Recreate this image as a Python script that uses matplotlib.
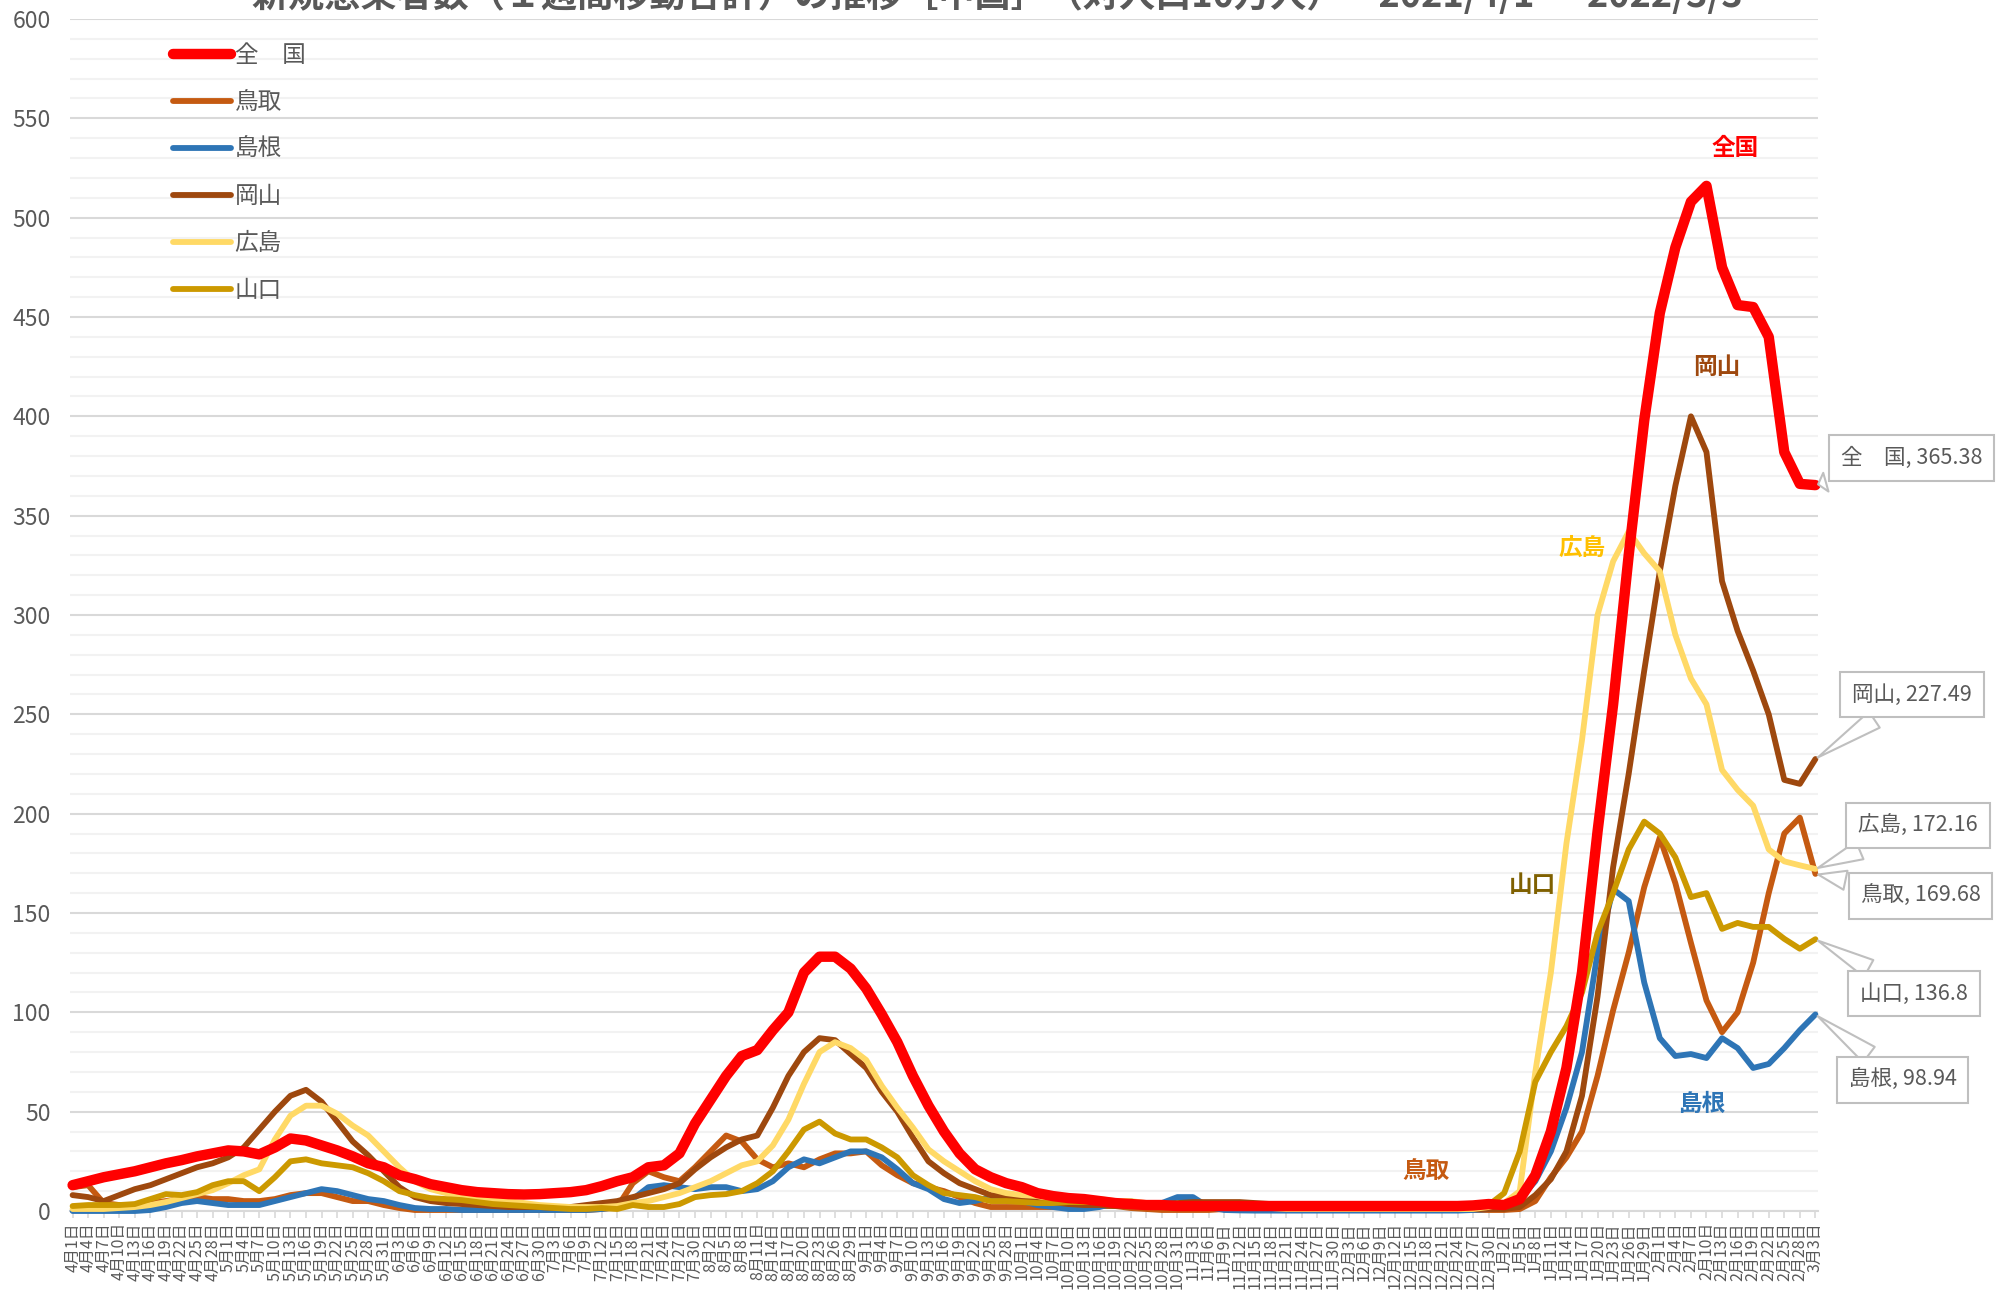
import numpy as np
import pandas as pd
import matplotlib
matplotlib.use("Agg")
import matplotlib.pyplot as plt
from matplotlib.ticker import MultipleLocator

plt.rcParams['font.family'] = ['Noto Sans CJK JP', 'DejaVu Sans']

# every third day, 2021/4/1 .. 2022/3/3
dates = pd.date_range('2021-04-01', '2022-03-03', freq='3D')
date_labels = [f"{d.month}月{d.day}日" for d in dates]

zenkoku = [13, 15, 17, 18.5, 20, 22, 24, 25.6, 27.5, 29, 30.5,
           30, 28.5, 32, 36.5, 35.5, 33, 30.5, 27.5, 24, 22,
           18, 16, 13.5, 12, 10.5, 9.5, 9, 8.5, 8.3, 8.5,
           9, 9.5, 10.5, 12.5, 15, 17, 22, 23, 29, 44,
           56, 68, 78, 81, 91, 100, 120, 128, 128, 122,
           112, 99, 85, 68, 53, 40, 29, 21, 17, 14,
           12, 9, 7.5, 6.5, 6, 5, 4, 3.5, 3, 3,
           2.5, 2.5, 2.5, 2.5, 2.5, 2.5, 2.5, 2.5, 2.5, 2.5,
           2.5, 2.5, 2.5, 2.5, 2.5, 2.5, 2.5, 2.5, 2.5, 2.8, 3.5,
           3, 6, 18, 40, 72, 120, 191, 255, 330, 398, 452,
           485, 508, 516, 475, 456, 455, 440, 382, 366, 365.38]
tottori = [12, 13, 4, 3, 3, 4, 5, 6, 7, 6, 6,
           5, 5, 6, 8, 9, 9, 7, 5, 5, 3,
           1.5, 0.5, 0.5, 0.5, 0.5, 0.5, 0.5, 0.5, 0.5, 0.5,
           0.5, 0.5, 0.5, 1, 2, 14, 20, 17, 15, 22,
           30, 38, 35, 26, 22, 24, 22, 26, 29, 29,
           30, 23, 18, 14, 12, 10, 7, 4, 2, 2,
           2, 2, 2, 2.5, 2.5, 2.5, 2.5, 1.5, 1, 0.5,
           0.5, 0.5, 0.5, 1, 1.5, 2, 1.5, 1, 0.5, 0.5,
           0.5, 0.5, 0.5, 0.5, 0.5, 0.5, 0.5, 0.5, 0.5, 0.5, 0.5,
           0.5, 1, 5, 17, 27, 40, 68, 101, 130, 163, 188,
           165, 135, 106, 90, 100, 125, 160, 190, 198, 169.68]
shimane = [0, 0, 0, 0, 0, 0.5, 2, 4, 5, 4, 3,
           3, 3, 5, 7, 9, 11, 10, 8, 6, 5,
           3, 1.5, 1, 1, 0.5, 0.5, 0.5, 0.5, 0.5, 0.5,
           0.5, 0.5, 0.5, 1, 2, 6, 12, 13, 12, 11,
           12, 12, 10, 11, 15, 22, 26, 24, 27, 30,
           30, 27, 21, 14, 11, 6, 4, 5, 7, 6,
           5, 3, 2, 1, 1, 2, 4, 5, 2, 4,
           7, 7, 2, 0.5, 0.3, 0.2, 0.2, 0.2, 0.2, 0.2,
           0.2, 0.2, 0.2, 0.2, 0.2, 0.2, 0.2, 0.2, 0.2, 0.5, 1,
           2, 6, 15, 30, 52, 80, 130, 162, 156, 115, 87,
           78, 79, 77, 87, 82, 72, 74, 82, 91, 98.94]
okayama = [8, 7, 5, 8, 11, 13, 16, 19, 22, 24, 27,
           32, 41, 50, 58, 61, 55, 45, 35, 28, 20,
           12, 7, 5, 4, 3.5, 3, 2.5, 2, 2, 2,
           1.5, 2, 3, 4, 5, 7, 9, 11, 14, 21,
           27, 32, 36, 38, 52, 68, 80, 87, 86, 79,
           72, 60, 50, 37, 25, 19, 14, 11, 8, 7.5,
           6.5, 5, 4.5, 3.5, 3, 3, 2.5, 2.5, 3, 3.5,
           4, 4.5, 4.5, 4.5, 4.5, 4, 3.5, 3, 2.5, 2,
           1.5, 1, 1, 1, 1, 1, 1, 1, 1, 1, 1,
           1, 2, 8, 16, 30, 58, 108, 173, 220, 272, 322,
           365, 400, 382, 317, 292, 272, 250, 217, 215, 227.49]
hiroshima = [1, 1, 1, 1.5, 2, 3, 4.5, 6.5, 8.5, 10.5, 14,
             18, 21, 36, 48, 53, 53, 49, 43, 38, 30,
             22, 15, 11, 9, 7.5, 6.5, 5.5, 5, 4, 3,
             2.5, 2, 2, 2, 2.5, 4, 5, 7, 9, 12,
             15, 19, 23, 25, 33, 46, 64, 80, 85, 82,
             76, 63, 52, 42, 31, 25, 20, 15, 11, 9,
             8, 7.5, 6, 5, 5, 6, 5, 5, 4, 3,
             2.5, 2, 2, 2, 2, 1.5, 1.5, 1, 1, 1,
             1, 1, 1, 1, 1, 1, 1, 1, 1, 1, 2,
             4, 10, 70, 120, 185, 237, 300, 327, 342, 331, 322,
             290, 268, 255, 222, 212, 204, 182, 176, 174, 172.16]
yamaguchi = [2.5, 3, 3, 3, 3.5, 6, 8.5, 8, 9.5, 13, 15,
             15, 10, 17, 25, 26, 24, 23, 22, 19, 15,
             10, 8, 6.5, 6, 5.5, 4.5, 3.5, 3, 2.5, 2,
             1.5, 1, 1, 1.5, 1, 3, 2, 2, 3.5, 7,
             8, 8.5, 10, 14, 20, 30, 41, 45, 39, 36,
             36, 32, 27, 18, 13, 9, 8, 7, 5, 5,
             4.5, 4, 4, 4.5, 4.5, 4.5, 4, 4, 3.5, 3,
             3, 3, 3, 3, 3, 2.5, 2, 1.5, 1.5, 1.5,
             1.5, 1.5, 1.5, 1.5, 1.5, 1.5, 1.5, 2, 2, 2, 3,
             9, 30, 65, 80, 93, 110, 140, 160, 182, 196, 190,
             178, 158, 160, 142, 145, 143, 143, 137, 132, 136.8]

names = ['全　国', '鳥取', '島根', '岡山', '広島', '山口']
series = [zenkoku, tottori, shimane, okayama, hiroshima, yamaguchi]
colors = ['#FF0000', '#C55A11', '#2E75B6', '#9E480E', '#FFD966', '#CC9900']
widths = [7.5, 4.2, 4.2, 4.2, 4.2, 4.2]
label_colors = ['#FF0000', '#C55A11', '#2E75B6', '#9E480E', '#FFC000', '#7F6000']

fig = plt.figure(figsize=(20.07, 12.97), dpi=100)
ax = fig.add_axes([70 / 2007, 86 / 1297, 1748 / 2007, 1192 / 1297])

days = np.arange(len(dates)) * 3
handles = []
for i in [1, 2, 3, 4, 5, 0]:
    h, = ax.plot(days, series[i], color=colors[i], lw=widths[i],
                 solid_capstyle='round', solid_joinstyle='round',
                 clip_on=False, zorder=3 + (i == 0), label=names[i])
    handles.append(h)
handles = [handles[-1]] + handles[:-1]

ax.set_xlim(-0.5, 336.5)
ax.set_ylim(0, 600)
ax.yaxis.set_major_locator(MultipleLocator(50))
ax.yaxis.set_minor_locator(MultipleLocator(10))
ax.grid(axis='y', which='major', color='#D9D9D9', lw=1.5, zorder=0)
ax.grid(axis='y', which='minor', color='#F2F2F2', lw=1.5, zorder=0)
for s in ['top', 'right', 'left']:
    ax.spines[s].set_visible(False)
ax.spines['bottom'].set_color('#D9D9D9')
ax.spines['bottom'].set_linewidth(1.5)
ax.tick_params(axis='y', which='both', length=0, pad=14, labelsize=16.5,
               labelcolor='#595959')
ax.set_xticks(days)
ax.set_xticklabels(date_labels, rotation=90, fontsize=11.5, color='#595959')
ax.tick_params(axis='x', length=5, color='#D9D9D9', width=1.2, pad=3)

fig.text(0.497, 1.0 + 4 / 1297,
         '新規感染者数（１週間移動合計）の推移［中国］（対人口10万人）　2021/4/1 ～ 2022/3/3',
         ha='center', va='center', fontsize=26, fontweight='bold', color='#595959')

ax.legend(handles=handles, loc='upper left', bbox_to_anchor=(0.059, 0.979),
          frameon=False, borderpad=0, borderaxespad=0, fontsize=17,
          handlelength=2.45, handletextpad=0.15, labelspacing=1.02,
          labelcolor='#595959')

# inline series names
inline = [('全国', 320.5, 535), ('鳥取', 261, 20), ('島根', 314, 54),
          ('岡山', 317, 425), ('広島', 291, 334), ('山口', 281.5, 164)]
for (txt, x, y), c in zip(inline, label_colors):
    ax.text(x, y, txt, color=c, fontsize=17, fontweight='bold',
            ha='center', va='center')

# callouts at last values
callouts = [('全　国', 354.6, 379), ('鳥取', 356.3, 158.5), ('島根', 352.8, 66),
            ('岡山', 354.6, 260), ('広島', 355.8, 194), ('山口', 355, 109.5)]
for (name, tx, ty), vals in zip(callouts, series):
    last = vals[-1]
    ax.annotate(f'{name}, {last:g}', xy=(days[-1], last), xytext=(tx, ty),
                ha='center', va='center', fontsize=15.5, color='#595959',
                annotation_clip=False, zorder=10,
                bbox=dict(boxstyle='square,pad=0.55', fc='white', ec='#BFBFBF', lw=1.5),
                arrowprops=dict(arrowstyle='wedge,tail_width=0.9,shrink_factor=0.5',
                                fc='white', ec='#BFBFBF', lw=1.5))

fig.savefig('out.png', dpi=100)
